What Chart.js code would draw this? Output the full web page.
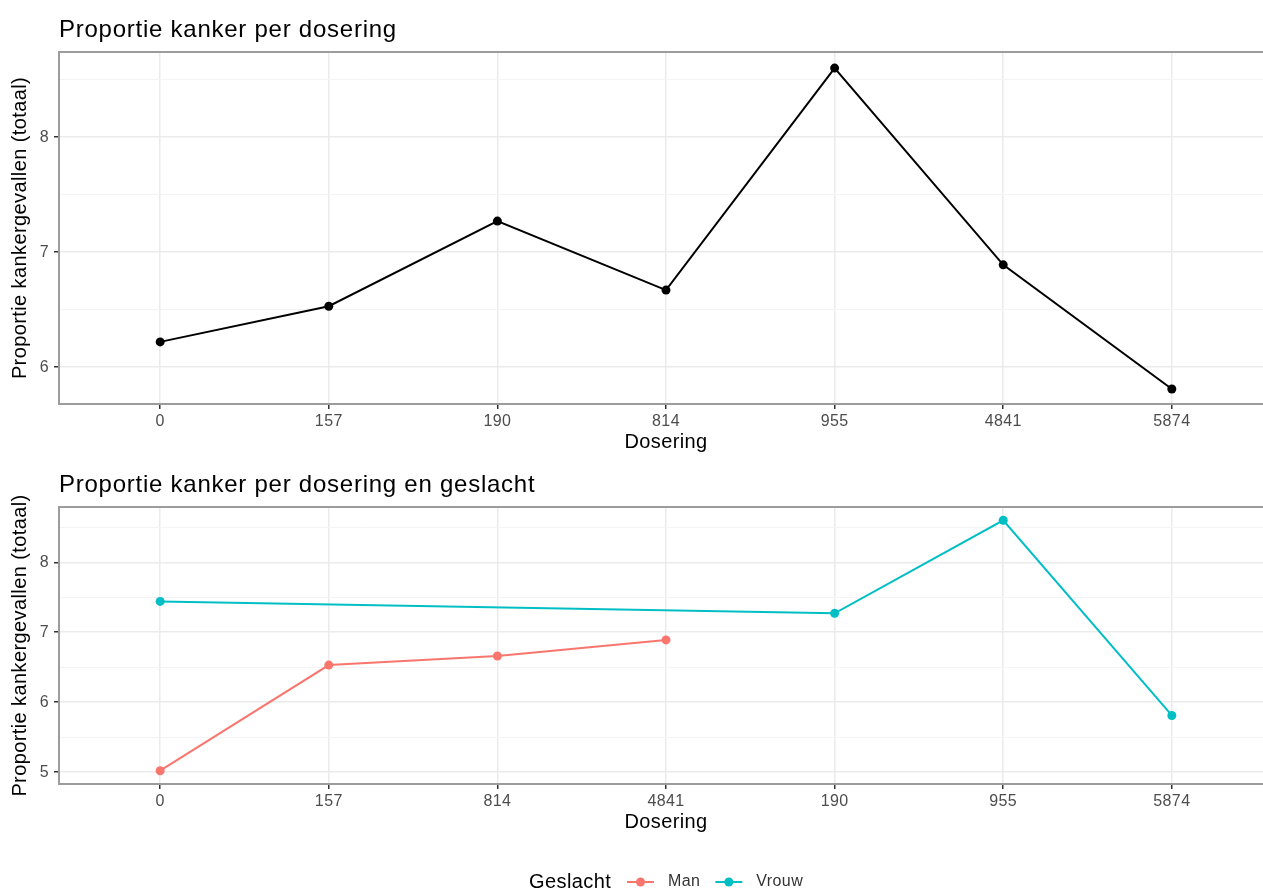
<!DOCTYPE html>
<html>
<head>
<meta charset="utf-8">
<script src="https://cdn.jsdelivr.net/npm/chart.js@4.4.1/dist/chart.umd.min.js"></script>
<style>
  html, body { margin: 0; background: #fff; overflow: hidden; width: 1263px; height: 890px; }
  .box { position: absolute; left: 0; width: 1290px; }
</style>
</head>
<body>
<div class="box" style="top:0;height:455px"><canvas id="c1" width="1290" height="455"></canvas></div>
<div class="box" style="top:455px;height:435px"><canvas id="c2" width="1290" height="435"></canvas></div>
<script>
// data
const doseLabels = ['0', '157', '190', '814', '955', '4841', '5874'];
const totalValues = [6.22, 6.53, 7.27, 6.67, 8.60, 6.89, 5.81];

const doseLabelsSex = ['0', '157', '814', '4841', '190', '955', '5874'];
const manValues   = [5.02, 6.53, 6.66, 6.89, null, null, null];
const vrouwValues = [7.44, null, null, null, 7.27, 8.60, 5.81];

const FONT = '"Liberation Sans", Arial, sans-serif';
const MAN = '#F8766D', VROUW = '#00BFC4';

function toPoints(vals) {
  return vals.map((v, i) => ({ x: i, y: v }));
}

// slightly wider letter spacing, like the R/Windows text rendering
const spacing = {
  id: 'spacing',
  beforeUpdate(chart) { chart.ctx.letterSpacing = '0.4px'; },
  beforeDraw(chart) { chart.ctx.letterSpacing = '0.4px'; }
};

// panel title, drawn at the left of the plot area
const panelTitle = {
  id: 'panelTitle',
  afterDraw(chart, args, opts) {
    const ctx = chart.ctx;
    ctx.save();
    ctx.letterSpacing = '0.75px';
    ctx.font = '24px ' + FONT;
    ctx.fillStyle = '#000';
    ctx.textBaseline = 'alphabetic';
    ctx.fillText(opts.text, chart.chartArea.left, opts.y);
    ctx.restore();
  }
};

// grey frame round the panel
const panelBorder = {
  id: 'panelBorder',
  afterDatasetsDraw(chart) {
    const { ctx, chartArea: a } = chart;
    ctx.save();
    ctx.strokeStyle = '#9C9C9C';
    ctx.lineWidth = 2;
    ctx.strokeRect(a.left, a.top, a.right - a.left, a.bottom - a.top);
    ctx.restore();
  }
};

// ggplot-style legend under the second panel
const sexLegend = {
  id: 'sexLegend',
  afterDraw(chart, args, opts) {
    if (!opts.show) return;
    const ctx = chart.ctx;
    const y = opts.y;
    ctx.save();
    ctx.textBaseline = 'middle';
    ctx.fillStyle = '#000';
    ctx.font = '20px ' + FONT;
    ctx.fillText('Geslacht', 529, y);
    let x = 627;
    chart.data.datasets.forEach(ds => {
      ctx.strokeStyle = ds.borderColor;
      ctx.lineWidth = 2;
      ctx.beginPath();
      ctx.moveTo(x, y);
      ctx.lineTo(x + 27, y);
      ctx.stroke();
      ctx.fillStyle = ds.borderColor;
      ctx.beginPath();
      ctx.arc(x + 13.5, y, 4.5, 0, Math.PI * 2);
      ctx.fill();
      ctx.fillStyle = '#333';
      ctx.font = '16px ' + FONT;
      ctx.fillText(ds.label, x + 41, y);
      x += 41 + ctx.measureText(ds.label).width + 15;
    });
    ctx.restore();
  }
};

function makeOptions(labels, yMin, yMax, title, padBottom, showLegend) {
  return {
    responsive: false,
    animation: false,
    devicePixelRatio: 1,
    layout: { padding: { top: 52, left: 0, right: 17, bottom: padBottom } },
    plugins: {
      legend: { display: false },
      tooltip: { enabled: false },
      panelTitle: { text: title, y: 37 },
      sexLegend: { show: showLegend, y: 427 }
    },
    scales: {
      x: {
        type: 'linear',
        min: -0.6,
        max: 6.6,
        afterFit: s => { s.height = 51; },
        border: { display: false },
        grid: {
          color: '#EBEBEB',
          lineWidth: 1.5,
          tickColor: '#333',
          tickLength: 5,
          tickWidth: 1.5
        },
        ticks: {
          stepSize: 1,
          includeBounds: false,
          autoSkip: false,
          maxRotation: 0,
          padding: 3,
          color: '#4D4D4D',
          font: { family: FONT, size: 16 },
          callback: v => labels[v]
        },
        title: {
          display: true,
          text: 'Dosering',
          color: '#000',
          font: { family: FONT, size: 20 },
          padding: { top: 0, bottom: 1 }
        }
      },
      y: {
        min: yMin,
        max: yMax,
        afterFit: s => { s.width = 59; },
        border: { display: false },
        grid: {
          color: c => Number.isInteger(c.tick.value) ? '#EBEBEB' : '#F4F4F4',
          lineWidth: c => Number.isInteger(c.tick.value) ? 1.5 : 1,
          tickColor: c => Number.isInteger(c.tick.value) ? '#333' : 'rgba(0,0,0,0)',
          tickLength: 5,
          tickWidth: 1.5
        },
        ticks: {
          stepSize: 0.5,
          includeBounds: false,
          padding: 5,
          color: '#4D4D4D',
          font: { family: FONT, size: 16 },
          callback: v => Number.isInteger(v) ? String(v) : ''
        },
        title: {
          display: true,
          text: 'Proportie kankergevallen (totaal)',
          color: '#000',
          font: { family: FONT, size: 20 },
          padding: { top: 8, bottom: 0 }
        }
      }
    }
  };
}

new Chart(document.getElementById('c1'), {
  type: 'line',
  data: {
    datasets: [{
      label: 'Totaal',
      data: toPoints(totalValues),
      borderColor: '#000',
      backgroundColor: '#000',
      borderWidth: 2,
      pointRadius: 4.5,
      pointBorderWidth: 0,
      fill: false
    }]
  },
  options: makeOptions(doseLabels, 5.68, 8.74, 'Proportie kanker per dosering', 0, false),
  plugins: [spacing, panelBorder, panelTitle, sexLegend]
});

new Chart(document.getElementById('c2'), {
  type: 'line',
  data: {
    datasets: [{
      label: 'Man',
      data: toPoints(manValues),
      borderColor: MAN,
      backgroundColor: MAN,
      borderWidth: 2,
      pointRadius: 4.5,
      pointBorderWidth: 0,
      spanGaps: true,
      fill: false
    }, {
      label: 'Vrouw',
      data: toPoints(vrouwValues),
      borderColor: VROUW,
      backgroundColor: VROUW,
      borderWidth: 2,
      pointRadius: 4.5,
      pointBorderWidth: 0,
      spanGaps: true,
      fill: false
    }]
  },
  options: makeOptions(doseLabelsSex, 4.83, 8.79, 'Proportie kanker per dosering en geslacht', 55, true),
  plugins: [spacing, panelBorder, panelTitle, sexLegend]
});
</script>
</body>
</html>
